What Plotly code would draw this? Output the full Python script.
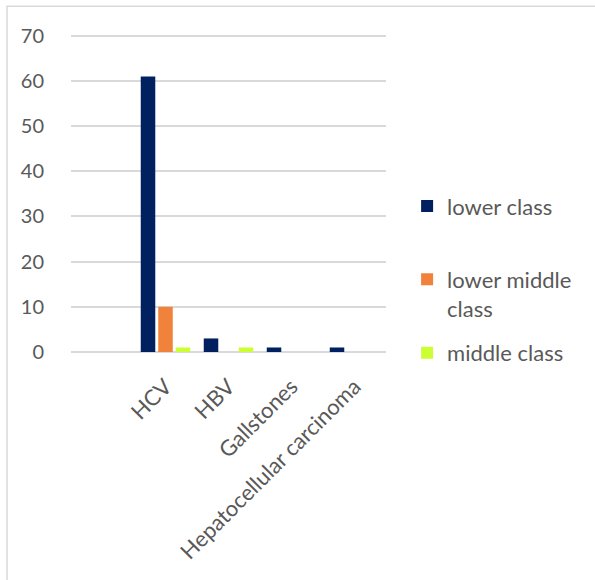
import plotly.graph_objects as go

categories = ["HCV", "HBV", "Gallstones", "Hepatocellular carcinoma"]
lower_class = [61, 3, 1, 1]
lower_middle_class = [10, 0, 0, 0]
middle_class = [1, 1, 0, 0]
series_names = ["lower class", "lower middle<br>class", "middle class"]
colors = ["#002060", "#F0823C", "#CCFF33"]
y_ticks = [0, 10, 20, 30, 40, 50, 60, 70]

W, H = 595, 580
YMAX = 70.4
B = 352
ppu = (352 - 35.5) / 70
L, R, T = 71, 386, B - YMAX * ppu
legend_centers = [206, 294, 353]
legend_ids = ["legend", "legend2", "legend3"]

fig = go.Figure()
for i, (name, vals) in enumerate(zip(series_names, [lower_class, lower_middle_class, middle_class])):
    fig.add_trace(go.Bar(x=categories, y=vals, name=name, marker=dict(color=colors[i], line=dict(width=0)),
                         legend=legend_ids[i]))

font = "Lato, 'Open Sans', sans-serif"
legend_common = dict(x=1.067, xanchor="left", yanchor="middle", valign="top",
                     font=dict(size=22, color="#595959"), itemwidth=30,
                     bgcolor="rgba(0,0,0,0)")
layout_legends = {}
for lid, yc in zip(legend_ids, legend_centers):
    layout_legends[lid] = dict(legend_common, y=(B - yc) / (B - T))

fig.update_layout(
    width=W, height=H,
    margin=dict(l=L, r=W - R, t=T, b=H - B, pad=0),
    paper_bgcolor="white", plot_bgcolor="white",
    barmode="group", bargap=0.167, bargroupgap=0.17,
    font=dict(family=font, size=20, color="#595959"),
    showlegend=True,
    xaxis=dict(type="category", range=[-1.5, 3.5], tickangle=-45, showgrid=False,
               ticks="outside", ticklen=12, tickcolor="rgba(0,0,0,0)", showline=False,
               tickfont=dict(size=22, color="#595959")),
    yaxis=dict(range=[0, YMAX], tickvals=y_ticks, showgrid=True, gridcolor="#D9D9D9", gridwidth=1.5,
               zeroline=True, zerolinecolor="#D9D9D9", zerolinewidth=1.5,
               ticks="outside", ticklen=22, tickcolor="rgba(0,0,0,0)",
               tickfont=dict(size=20, color="#595959")),
    **layout_legends,
)

pw, ph = R - L, B - T
fig.add_shape(type="rect", xref="paper", yref="paper",
              x0=(7 - L) / pw, x1=(W + 5 - L) / pw, y0=(B - (H + 5)) / ph, y1=(B - 6) / ph,
              line=dict(color="#D9D9D9", width=1.5), fillcolor="rgba(0,0,0,0)", layer="below")

fig.write_html("out.html")
